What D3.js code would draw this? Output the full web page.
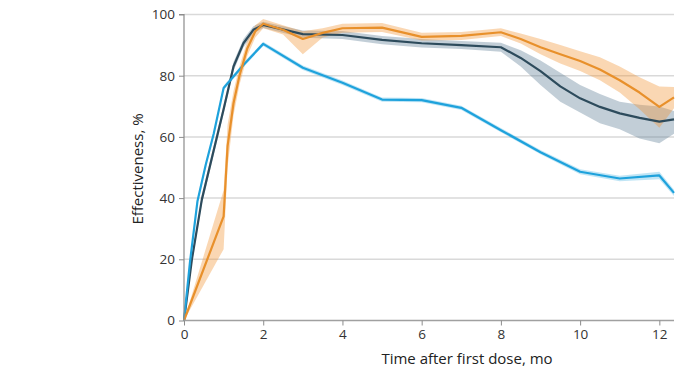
<!DOCTYPE html>
<html>
<head>
<meta charset="utf-8">
<script src="https://cdn.jsdelivr.net/npm/d3@7"></script>
<style>
  html, body { margin: 0; padding: 0; background: #fff; }
  svg { display: block; font-family: "Open Sans", "Noto Sans", sans-serif; }
</style>
</head>
<body>
<svg id="chart" width="692" height="370"></svg>
<script>
// ---- Data ----
const yTicks = [0, 20, 40, 60, 80, 100];
const xTicks = [0, 2, 4, 6, 8, 10, 12];
const xLabel = "Time after first dose, mo";
const yLabel = "Effectiveness, %";

// Dark slate series
const darkMonths = [0, 0.2, 0.45, 1, 1.25, 1.5, 1.75, 2, 3, 4, 5, 6, 7, 8, 8.5, 9, 9.5, 10, 10.5, 11, 11.5, 12, 12.37];
const darkValues = [0, 20, 39.5, 69, 83, 90.6, 95, 96.6, 93.6, 93.3, 91.7, 90.6, 90, 89.3, 85.8, 81.5, 76.5, 72.6, 69.8, 67.7, 66.2, 65, 65.7];
const darkLower  = [0, 18.8, 38, 67.5, 81.5, 89.2, 93.8, 95.6, 92.4, 92, 90.3, 89.2, 88.7, 87.8, 83, 77, 71.5, 68, 64.5, 62.5, 59.5, 57.9, 61];
const darkUpper  = [0, 21.2, 41, 70.5, 84.5, 92, 96.2, 97.6, 94.8, 94.6, 93, 92, 91.3, 90.8, 88.3, 85, 81, 77, 74, 71.5, 70.5, 69.9, 68.5];

// Orange series
const orangeMonths = [0, 1, 1.1, 1.25, 1.4, 1.6, 1.8, 2, 2.5, 3, 3.5, 4, 5, 6, 7, 8, 8.5, 9, 9.5, 10, 10.5, 11, 11.5, 12, 12.37];
const orangeValues = [0, 34, 57, 71, 80, 89, 94.5, 97, 95, 92, 94, 95.5, 95.7, 92.7, 93, 94.2, 92, 89.3, 87, 84.8, 82, 78.5, 74.5, 69.8, 72.9];
const orangeLower  = [0, 23.3, 50, 67, 77, 86.5, 92.5, 95.5, 93.5, 87, 92.5, 94, 94.3, 91.5, 91.7, 93, 90.5, 87, 84, 81.5, 78.5, 74.5, 69, 63, 69.4];
const orangeUpper  = [0, 42.6, 64, 75, 83, 91.5, 96.5, 98.5, 96.5, 94.5, 95.5, 97, 97.2, 94, 94.3, 95.5, 93.8, 92, 90, 88, 86, 83, 79.5, 76.5, 76.3];

// Blue series
const blueMonths = [0, 0.15, 0.34, 0.55, 0.75, 1, 1.5, 2, 3, 4, 5, 6, 7, 8, 9, 10, 11, 12, 12.37];
const blueValues = [0, 19, 39, 51, 61, 76, 83.5, 90.4, 82.6, 77.7, 72.2, 72, 69.5, 62.2, 55, 48.6, 46.4, 47.4, 41.7];
const blueLower  = [0, 18.3, 38.3, 50.3, 60.3, 75.3, 82.8, 89.7, 81.9, 77, 71.5, 71.3, 68.8, 61.5, 54.3, 47.8, 45.5, 46.2, 40.7];
const blueUpper  = [0, 19.7, 39.7, 51.7, 61.7, 76.7, 84.2, 91.1, 83.3, 78.4, 72.9, 72.7, 70.2, 62.9, 55.7, 49.4, 47.3, 48.6, 42.7];

// ---- Build series ----
function build(months, vals, lo, hi) {
  return months.map((m, i) => ({ m: m, v: vals[i], lo: lo[i], hi: hi[i] }));
}
const series = [
  { name: "dark",   data: build(darkMonths, darkValues, darkLower, darkUpper),       line: "#2d4b5c", band: "rgba(95,125,150,0.38)" },
  { name: "blue",   data: build(blueMonths, blueValues, blueLower, blueUpper),       line: "#1ea2dc", band: "rgba(30,160,220,0.28)" },
  { name: "orange", data: build(orangeMonths, orangeValues, orangeLower, orangeUpper), line: "#e8902b", band: "rgba(242,150,55,0.38)" }
];

// ---- Scales ----
const svg = d3.select("#chart");
const x = d3.scaleLinear().domain([0, 12.37]).range([184, 674]);
const y = d3.scaleLinear().domain([0, 100]).range([320.5, 14.5]);

// gridlines
svg.append("g")
  .selectAll("line")
  .data(yTicks.filter(d => d > 0))
  .join("line")
  .attr("x1", x(0)).attr("x2", x.range()[1])
  .attr("y1", d => y(d)).attr("y2", d => y(d))
  .attr("stroke", "#d9d9d9").attr("stroke-width", 1.5);

// bands
const area = d3.area().x(d => x(d.m)).y0(d => y(d.lo)).y1(d => y(d.hi));
svg.append("g").selectAll("path")
  .data(series).join("path")
  .attr("d", s => area(s.data))
  .attr("fill", s => s.band)
  .attr("stroke", "none");

// lines
const line = d3.line().x(d => x(d.m)).y(d => y(d.v));
svg.append("g").selectAll("path")
  .data(series).join("path")
  .attr("d", s => line(s.data))
  .attr("fill", "none")
  .attr("stroke", s => s.line)
  .attr("stroke-width", 2.2)
  .attr("stroke-linejoin", "round");

// axes
const yAxis = d3.axisLeft(y).tickValues(yTicks).tickSize(5).tickPadding(4);
const gy = svg.append("g").attr("transform", `translate(${x(0)},0)`).call(yAxis);
gy.select(".domain").attr("stroke", "#8c8c8c").attr("stroke-width", 1.2).attr("d", `M-5,${y(100)}H0V${y(0)}`);
gy.selectAll(".tick line").attr("stroke", "#8c8c8c");
gy.selectAll(".tick text").attr("fill", "#333").style("font-size", "13.5px").style("font-family", "'Open Sans', sans-serif");

const xAxis = d3.axisBottom(x).tickValues(xTicks).tickSize(5).tickPadding(4);
const gx = svg.append("g").attr("transform", `translate(0,${y(0)})`).call(xAxis);
gx.select(".domain").attr("stroke", "#a0a0a0").attr("stroke-width", 1.6).attr("d", `M${x(0)},0H${x.range()[1]}`);
gx.selectAll(".tick line").attr("stroke", "#8c8c8c");
gx.selectAll(".tick text").attr("fill", "#333").style("font-size", "13.5px").style("font-family", "'Open Sans', sans-serif");

// axis titles
svg.append("text")
  .attr("x", 467).attr("y", 364)
  .attr("text-anchor", "middle")
  .attr("fill", "#222")
  .style("font-size", "15px")
  .text(xLabel);

svg.append("text")
  .attr("transform", "translate(143,169) rotate(-90)")
  .attr("text-anchor", "middle")
  .attr("fill", "#222")
  .style("font-size", "15px")
  .text(yLabel);
</script>
</body>
</html>
